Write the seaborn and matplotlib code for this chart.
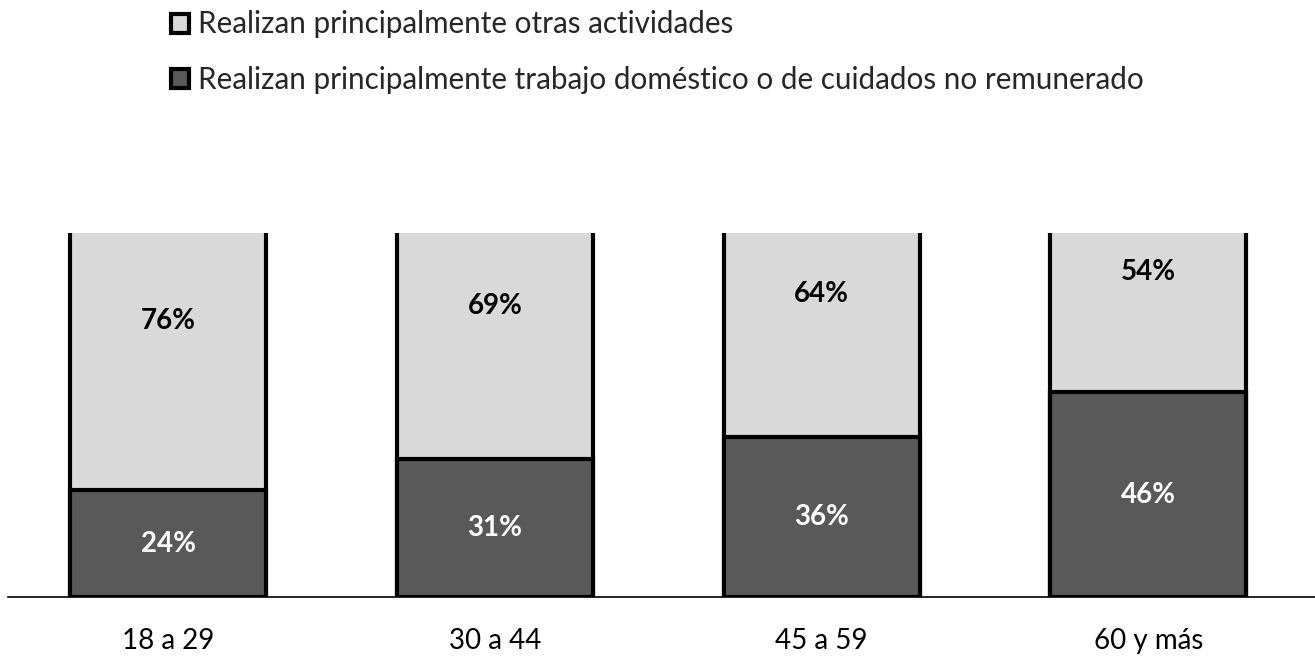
import matplotlib
matplotlib.use("Agg")
import matplotlib.pyplot as plt
import seaborn as sns
import pandas as pd
from matplotlib.patches import Patch

# datos
edades = ["18 a 29", "30 a 44", "45 a 59", "60 y más"]
domestico = [24, 31, 36, 46]
otras = [76, 69, 64, 54]

lab_otras = "Realizan principalmente otras actividades"
lab_dom = "Realizan principalmente trabajo doméstico o de cuidados no remunerado"

c_claro = "#D9D9D9"
c_oscuro = "#595959"

sns.set_theme(style="white")
plt.rcParams['font.family'] = ['Lato', 'DejaVu Sans']

df = pd.DataFrame({"edad": edades, "dom": domestico, "otras": otras})
df["total"] = df["dom"] + df["otras"]

fig = plt.figure(figsize=(13.15, 6.56), dpi=100)
ax = fig.add_axes([8/1315, 59/656, 1 - 8/1315, 364/656])

sns.barplot(data=df, x="edad", y="total", color=c_claro, width=0.6,
            edgecolor="black", linewidth=3, saturation=1, ax=ax)
sns.barplot(data=df, x="edad", y="dom", color=c_oscuro, width=0.6,
            edgecolor="black", linewidth=3, saturation=1, ax=ax)

# etiquetas
for i, (d, o) in enumerate(zip(domestico, otras)):
    ax.text(i, d / 2, f"{d}%", ha="center", va="center", color="white",
            fontsize=20, fontweight="bold")
    ax.text(i, d + o / 2, f"{o}%", ha="center", va="center", color="black",
            fontsize=20, fontweight="bold")

ax.set_ylim(0, 81.8)
ax.set_xlim(-0.49, 3.51)
ax.set_xlabel("")
ax.set_ylabel("")
ax.set_yticks([])
ax.tick_params(axis="x", length=0, labelsize=20, pad=22, colors="black")
for s in ["top", "right", "left"]:
    ax.spines[s].set_visible(False)
ax.spines["bottom"].set_color("black")
ax.spines["bottom"].set_linewidth(1.2)
ax.spines["bottom"].set_zorder(0)

handles = [Patch(facecolor=c_claro, edgecolor="black", linewidth=3),
           Patch(facecolor=c_oscuro, edgecolor="black", linewidth=3)]
fig.legend(handles, [lab_otras, lab_dom], loc="upper left",
           bbox_to_anchor=(171/1315, 1 - 10.5/656), frameon=False,
           fontsize=21.3, handlelength=0.62, handleheight=0.62,
           handletextpad=0.3, labelspacing=0.93, borderpad=0,
           borderaxespad=0)

fig.savefig("out.png", dpi=100)
